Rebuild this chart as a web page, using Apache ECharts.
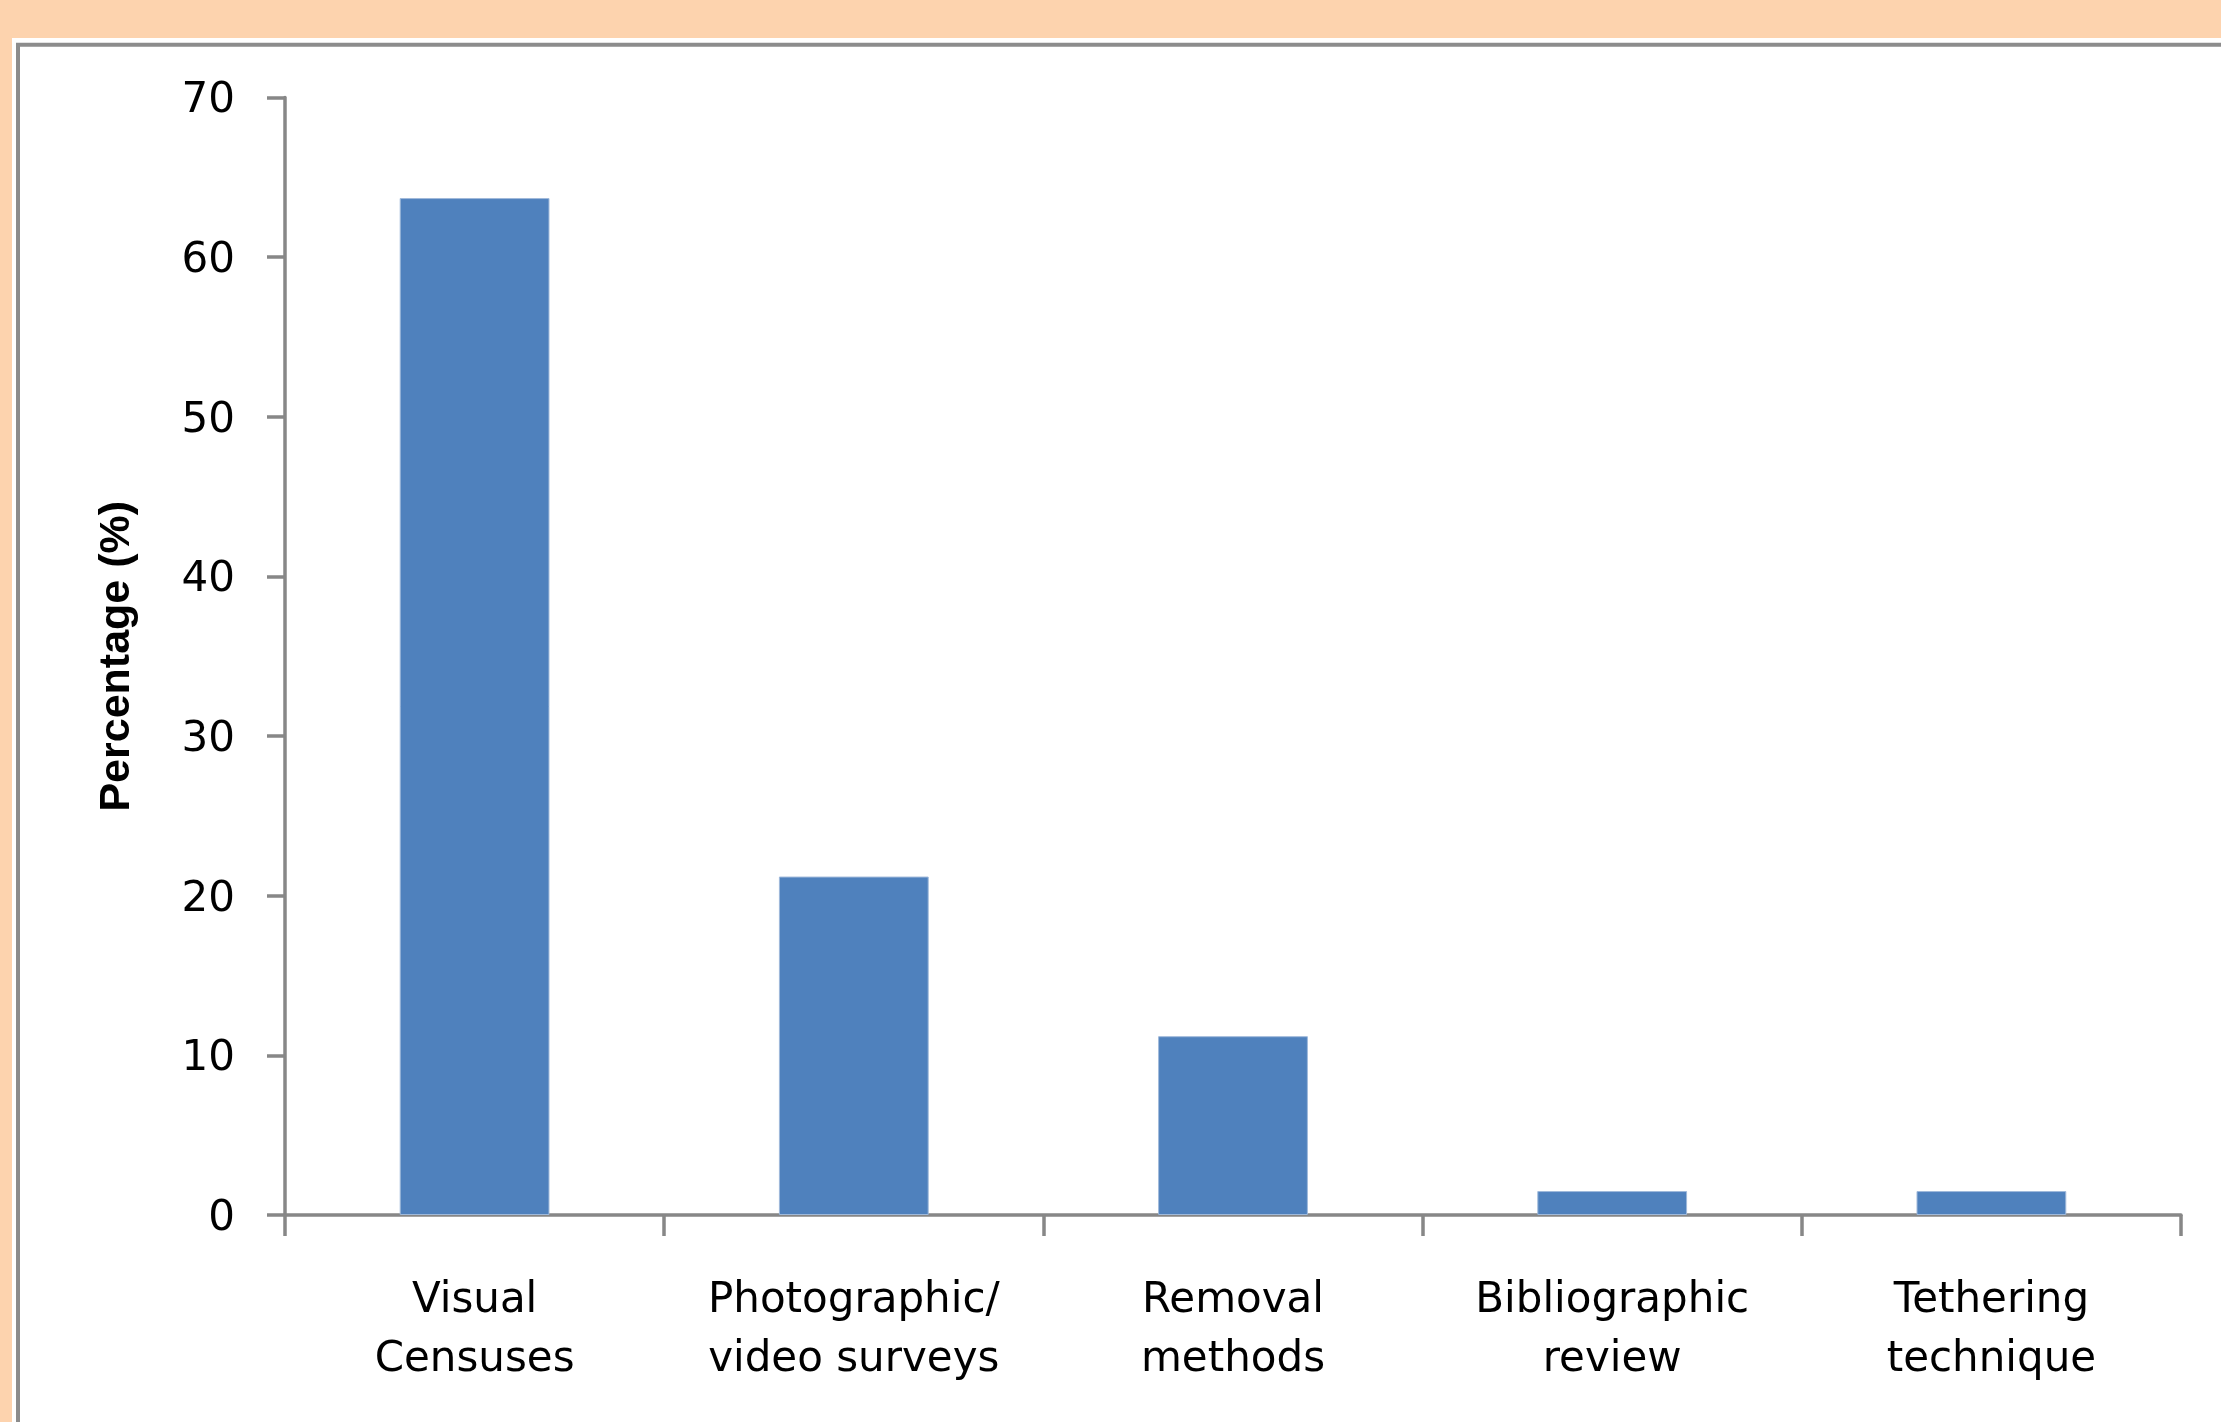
<!DOCTYPE html>
<html>
<head>
<meta charset="utf-8">
<script src="https://cdn.jsdelivr.net/npm/echarts@6/dist/echarts.min.js"></script>
<style>
html,body{margin:0;padding:0;background:#FDD3AE;}
#chart{width:2221px;height:1422px;}
</style>
</head>
<body>
<div id="chart"></div>
<script>
const categories = ["Visual\nCensuses", "Photographic/\nvideo surveys", "Removal\nmethods", "Bibliographic\nreview", "Tethering\ntechnique"];
const percentages = [63.7, 21.2, 11.2, 1.5, 1.5];
const yAxisName = "Percentage (%)";

const chart = echarts.init(document.getElementById('chart'), null, {renderer: 'canvas'});
const axisColor = '#878787';
const font = 'DejaVu Sans';
chart.setOption({
  backgroundColor: '#FDD3AE',
  animation: false,
  graphic: [
    {type: 'rect', z: -10, silent: true, shape: {x: 12, y: 38, width: 3000, height: 3000}, style: {fill: '#ffffff'}},
    {type: 'rect', z: -9, silent: true, shape: {x: 18, y: 44.7, width: 3000, height: 3000}, style: {fill: '#ffffff', stroke: '#8c8c8c', lineWidth: 4}}
  ],
  grid: {left: 285, right: 40, top: 97.5, bottom: 207, containLabel: false},
  xAxis: {
    type: 'category',
    data: categories,
    axisLine: {show: true, lineStyle: {color: axisColor, width: 3.5}},
    axisTick: {show: true, length: 21, lineStyle: {color: axisColor, width: 3.5}},
    axisLabel: {color: '#000', fontFamily: font, fontSize: 42, lineHeight: 59, margin: 57, interval: 0}
  },
  yAxis: {
    type: 'value',
    min: 0, max: 70, interval: 10,
    name: yAxisName,
    nameLocation: 'middle',
    nameRotate: 90,
    nameGap: 146,
    nameTextStyle: {color: '#000', fontFamily: 'Liberation Sans', fontSize: 43, fontWeight: 'bold'},
    splitLine: {show: false},
    axisLine: {show: true, lineStyle: {color: axisColor, width: 3.5}},
    axisTick: {show: true, length: 18, lineStyle: {color: axisColor, width: 3.5}},
    axisLabel: {
      margin: 50,
      formatter: '{v|{value}}',
      rich: {v: {color: '#000', fontFamily: font, fontSize: 42, lineHeight: 42, padding: [8, 0, 0, 0]}}
    }
  },
  series: [{
    type: 'bar',
    data: percentages,
    barCategoryGap: '60.5%',
    itemStyle: {color: '#4F81BD', borderColor: '#9fb9da', borderWidth: 1}
  }]
});
</script>
</body>
</html>
